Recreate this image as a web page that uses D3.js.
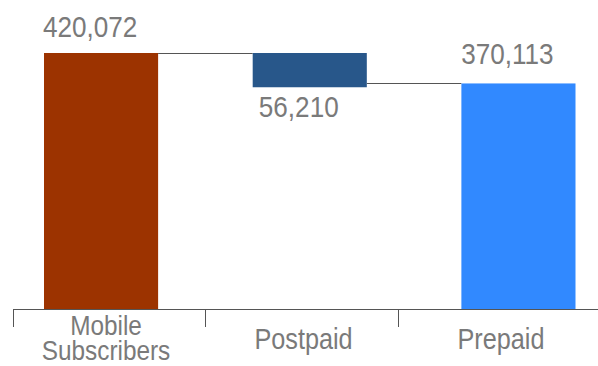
<!DOCTYPE html>
<html>
<head>
<meta charset="utf-8">
<script src="https://cdn.jsdelivr.net/npm/d3@7"></script>
<style>
  html, body { margin: 0; padding: 0; background: #fff; }
  svg { display: block; }
</style>
</head>
<body>
<svg id="chart" width="598" height="366"></svg>
<script>
// chart data
const categories = ["Mobile Subscribers", "Postpaid", "Prepaid"];
const values = [420072, -56210, 370113];
const kinds = ["total", "delta", "total"];

const barColors = ["#9c3300", "#28578a", "#3189ff"];
const textColor = "#7a7a7a";
const fmt = d3.format(",");

const svg = d3.select("#chart");
const axisY = 309;

// bars run on their own band scale, the axis ticks on another one
const x = d3.scaleBand()
    .domain(categories)
    .range([44, 575.5])
    .paddingInner(0.4532)
    .paddingOuter(0);

const tickX = d3.scaleBand()
    .domain(categories)
    .range([13, 590]);

const labelX = d3.scalePoint()
    .domain(categories)
    .range([106, 501]);

const y = d3.scaleLinear()
    .domain([0, d3.max(values)])
    .range([axisY, 53]);

// build waterfall segments
let running = 0;
const bars = categories.map((c, i) => {
    let lo, hi;
    if (kinds[i] === "total") {
        lo = 0; hi = values[i]; running = values[i];
    } else {
        const next = running + values[i];
        lo = Math.min(running, next); hi = Math.max(running, next);
        running = next;
    }
    return { cat: c, value: values[i], kind: kinds[i], lo, hi, color: barColors[i] };
});

// squeezed text, the reference font is narrow
function addText(g, tx, ty, str, size) {
    return g.append("text")
        .attr("transform", `translate(${tx},${ty}) scale(0.87,1)`)
        .attr("text-anchor", "middle")
        .attr("font-family", "'Liberation Sans', Arial, sans-serif")
        .attr("font-size", size)
        .attr("fill", textColor)
        .text(str);
}

// connectors
const conn = svg.append("g").attr("class", "connectors");
bars.forEach((b, i) => {
    if (i === bars.length - 1) return;
    const level = b.kind === "total" ? b.hi : (b.value < 0 ? b.lo : b.hi);
    const nb = bars[i + 1];
    const ly = nb.kind === "total" ? y(nb.hi) : y(level);
    conn.append("line")
        .attr("x1", x(b.cat) + x.bandwidth())
        .attr("x2", x(nb.cat))
        .attr("y1", Math.round(ly) + 0.5)
        .attr("y2", Math.round(ly) + 0.5)
        .attr("stroke", "#555")
        .attr("stroke-width", 1);
});

// bars
svg.append("g").attr("class", "bars")
    .selectAll("rect")
    .data(bars)
    .join("rect")
    .attr("x", d => x(d.cat))
    .attr("y", d => y(d.hi))
    .attr("width", x.bandwidth())
    .attr("height", d => y(d.lo) - y(d.hi))
    .attr("fill", d => d.color);

// value labels
const vl = svg.append("g").attr("class", "value-labels");
bars.forEach(b => {
    const cx = x(b.cat) + x.bandwidth() / 2 - 11;
    if (b.kind === "total") {
        addText(vl, cx, y(b.hi) - (b.cat === categories[0] ? 16 : 19), fmt(b.value), 30);
    } else {
        addText(vl, cx, y(b.lo) + 30, fmt(Math.abs(b.value)), 30);
    }
});

// axis
const ax = svg.append("g").attr("class", "axis");
ax.append("line")
    .attr("x1", 13).attr("x2", 598)
    .attr("y1", axisY + 0.5).attr("y2", axisY + 0.5)
    .attr("stroke", "#555");
ax.selectAll(".tick")
    .data(categories)
    .join("line")
    .attr("class", "tick")
    .attr("x1", d => Math.round(tickX(d)) + 0.5)
    .attr("x2", d => Math.round(tickX(d)) + 0.5)
    .attr("y1", axisY)
    .attr("y2", axisY + 18)
    .attr("stroke", "#555");

categories.forEach(c => {
    const words = c.split(" ");
    if (words.length === 2) {
        addText(ax, labelX(c), 335, words[0], 28);
        addText(ax, labelX(c), 360, words[1], 28);
    } else {
        addText(ax, labelX(c), 349, c, 29);
    }
});
</script>
</body>
</html>
